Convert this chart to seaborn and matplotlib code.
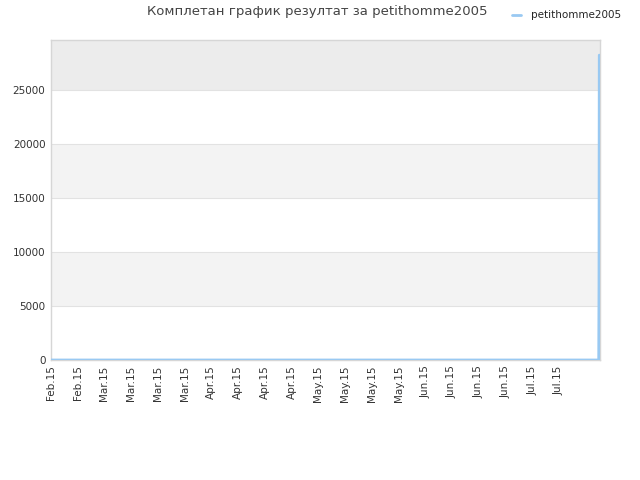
import pandas as pd
import numpy as np
import matplotlib.pyplot as plt
import seaborn as sns

# data
dates = ["2015-02-14 00:00", "2015-07-27 22:00", "2015-07-28 00:00", "2015-07-28 02:00"]
values = [0, 0, 6900, 28200]
tick_dates = ["2015-02-14", "2015-02-22", "2015-03-02", "2015-03-10", "2015-03-18",
              "2015-03-26", "2015-04-03", "2015-04-11", "2015-04-19", "2015-04-27",
              "2015-05-05", "2015-05-13", "2015-05-21", "2015-05-29", "2015-06-06",
              "2015-06-14", "2015-06-22", "2015-06-30", "2015-07-08", "2015-07-16"]
tick_labels = ["Feb.15", "Feb.15", "Mar.15", "Mar.15", "Mar.15", "Mar.15",
               "Apr.15", "Apr.15", "Apr.15", "Apr.15", "May.15", "May.15",
               "May.15", "May.15", "Jun.15", "Jun.15", "Jun.15", "Jun.15",
               "Jul.15", "Jul.15"]
y_ticks = [0, 5000, 10000, 15000, 20000, 25000]
name = "petithomme2005"

sns.set_style("white")
plt.rcParams['font.family'] = ['DejaVu Sans']

start = pd.Timestamp(dates[0])
df = pd.DataFrame({"day": [(pd.Timestamp(d) - start) / pd.Timedelta(days=1) for d in dates],
                   "value": values})
tick_pos = [(pd.Timestamp(d) - start).days for d in tick_dates]

fig = plt.figure(figsize=(6.4, 4.8), dpi=100)
ax = fig.add_axes([0.0797, 0.25, 0.8578, 0.6667])

# alternating bands
ymax = 29600
band_cols = ["#ffffff", "#f3f3f3", "#ffffff", "#f3f3f3", "#ffffff", "#ececec"]
for i, y0 in enumerate(y_ticks):
    ax.axhspan(y0, y0 + 5000, color=band_cols[i], zorder=0, lw=0)
for y0 in y_ticks[1:]:
    ax.axhline(y0, color="#e2e2e2", lw=0.8, zorder=1)

sns.lineplot(data=df, x="day", y="value", ax=ax, color="#99c9f2", lw=2,
             label=name, zorder=3)

ax.set_xlim(0, 164.3)
ax.set_ylim(0, ymax)
ax.set_xticks(tick_pos)
ax.set_xticklabels(tick_labels, rotation=90, fontsize=7.5, color="#333333")
ax.set_yticks(y_ticks)
ax.set_yticklabels([str(v) for v in y_ticks], fontsize=7.5, color="#333333")
ax.tick_params(axis="both", length=0, pad=4)
ax.set_xlabel("")
ax.set_ylabel("")
for sp in ax.spines.values():
    sp.set_color("#d6d6d6")
    sp.set_linewidth(1)

fig.text(0.495, 0.975, "Комплетан график резултат за " + name, ha="center",
         va="center", fontsize=9.5, color="#444444")
ax.get_legend().remove()
fig.legend(loc="center left", bbox_to_anchor=(0.785, 0.968), frameon=False,
           fontsize=7.5, handlelength=0.9, handletextpad=0.9)

plt.savefig("out.png", dpi=100)
